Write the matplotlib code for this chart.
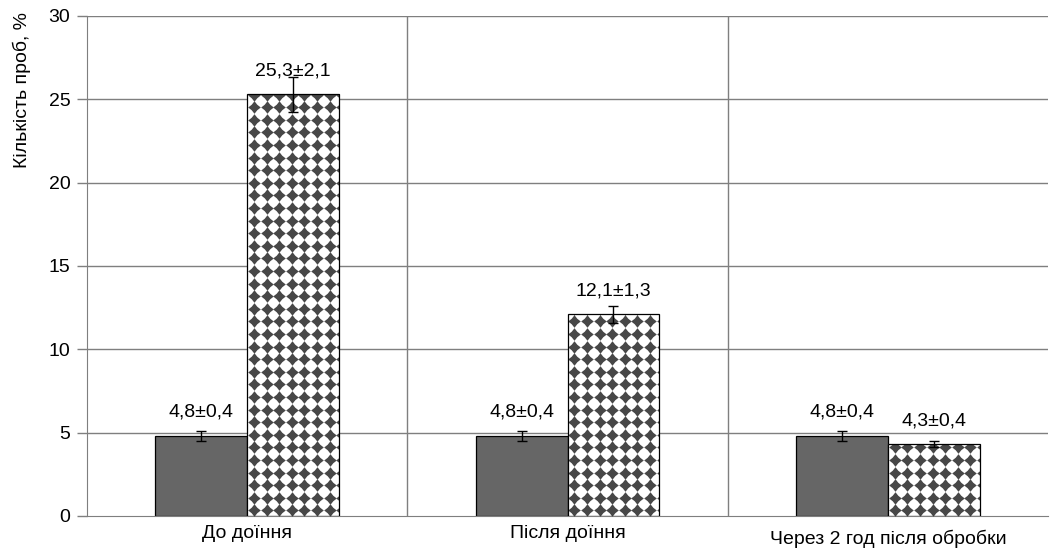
import matplotlib
matplotlib.use("Agg")
import matplotlib.pyplot as plt
import matplotlib.transforms as mtransforms
import numpy as np

categories = ["До доїння", "Після доїння", "Через 2 год після обробки"]
control = [4.8, 4.8, 4.8]
control_err = [0.32, 0.32, 0.32]
control_labels = ["4,8±0,4", "4,8±0,4", "4,8±0,4"]
treated = [25.3, 12.1, 4.3]
treated_err = [1.03, 0.5, 0.18]
treated_labels = ["25,3±2,1", "12,1±1,3", "4,3±0,4"]

plt.rcParams['font.family'] = ['Liberation Sans', 'DejaVu Sans']
plt.rcParams['font.size'] = 14

W, H, DPI = 1050, 551, 100
fig = plt.figure(figsize=(W / DPI, H / DPI), dpi=DPI)
ax_l, ax_r, ax_t, ax_b = 87, 1048, 16, 516
ax = fig.add_axes([ax_l / W, 1 - ax_b / H, (ax_r - ax_l) / W, (ax_b - ax_t) / H])

xlim = (-0.5, 2.5)
ylim = (0, 30)
ax.set_xlim(*xlim)
ax.set_ylim(*ylim)

grid_c = '#7f7f7f'
for yv in range(5, 31, 5):
    ax.axhline(yv, color=grid_c, lw=1, zorder=0)
for xv in [0.5, 1.5]:
    ax.axvline(xv, color=grid_c, lw=1, zorder=0)

x = np.arange(len(categories))
w = 0.287
x1 = x - w / 2
x2 = x + w / 2

ax.bar(x1, control, w, color='#666666', edgecolor='black', lw=0.9, zorder=2)
hb = ax.bar(x2, treated, w, color='white', edgecolor='none', zorder=2)
ax.bar(x2, treated, w, color='none', edgecolor='black', lw=0.9, zorder=4)

# diamond fill pattern for the second series
px_x = (ax_r - ax_l) / (xlim[1] - xlim[0])
px_y = (ax_b - ax_t) / (ylim[1] - ylim[0])
period = 12.6
dx = period / px_x
dy = period / px_y
k = 0.44
diamond = [(0, 1), (k, k), (1, 0), (k, -k), (0, -1), (-k, -k), (-1, 0), (-k, k), (0, 1)]
for rect, xc, val in zip(hb.patches, x2, treated):
    left = xc - w / 2
    xs = np.arange(left + 0.55 * dx, left + w + dx, dx)
    ys = np.arange(0.45 * dy, val + dy, dy)
    gx, gy = np.meshgrid(xs, ys)
    sc = ax.scatter(gx.ravel(), gy.ravel(), marker=diamond, s=82, color='#474747',
                    linewidths=0, zorder=3)
    sc.set_clip_path(rect)

ax.errorbar(x1, control, yerr=control_err, fmt='none', ecolor='black', elinewidth=1,
            capsize=3.5, capthick=1, zorder=5)
ax.errorbar(x2, treated, yerr=treated_err, fmt='none', ecolor='black', elinewidth=1,
            capsize=3.5, capthick=1, zorder=5)

for xc, v, t in zip(x1, control, control_labels):
    ax.annotate(t, (xc, v), xytext=(0, 11), textcoords='offset points',
                ha='center', va='bottom')
for xc, v, t in zip(x2, treated, treated_labels):
    ax.annotate(t, (xc, v), xytext=(0, 11), textcoords='offset points',
                ha='center', va='bottom')

ax.set_yticks(range(0, 31, 5))
ax.set_xticks(x)
ax.set_xticklabels(categories)
ax.tick_params(axis='x', length=0, pad=6.5, labelsize=14)
ax.tick_params(axis='y', length=7, width=1, color=grid_c, pad=5, labelsize=14)
lbls = ax.get_xticklabels()
lbls[2].set_transform(lbls[2].get_transform() +
                      mtransforms.ScaledTranslation(0, -5 / DPI, fig.dpi_scale_trans))

for s in ['top', 'right']:
    ax.spines[s].set_visible(False)
ax.spines['left'].set_color(grid_c)
ax.spines['bottom'].set_color(grid_c)

fig.text(22 / W, 1 - 12 / H, "Кількість проб, %", rotation=90, ha='center', va='top')

fig.savefig("out.png", dpi=DPI)
